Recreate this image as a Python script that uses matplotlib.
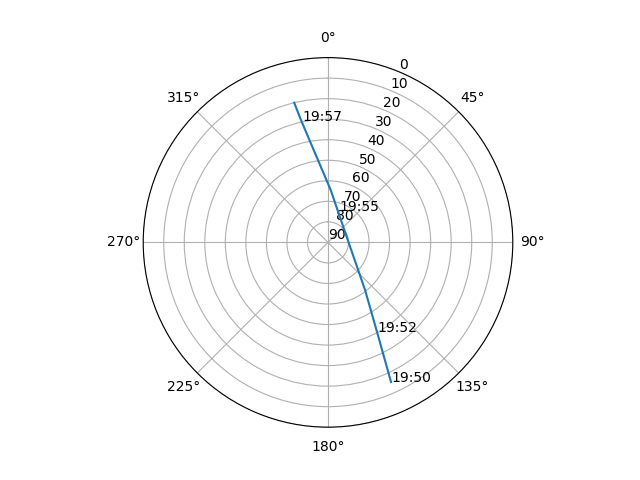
import numpy as np
import matplotlib
matplotlib.use("Agg")
import matplotlib.pyplot as plt

# satellite pass path: azimuth (deg) and elevation (deg)
path_az = [155.7, 151.3, 142.1, 108.1, 83.1, 52.9, 2.9, 347.6, 346.4]
path_el = [15.4, 40.3, 60.6, 78.1, 80.3, 80.0, 64.4, 29.3, 20.0]

# time annotations
label_times = ["19:50", "19:52", "19:55", "19:57"]
label_az = [155.7, 151.3, 19.3, 347.9]
label_el = [15.4, 40.3, 73.8, 29.5]

r_ticks = list(range(0, 91, 10))

fig = plt.figure(figsize=(6.4, 4.8), dpi=100)
ax = fig.add_subplot(111, projection="polar")
ax.set_theta_zero_location("N")
ax.set_theta_direction(-1)

theta = np.unwrap(np.radians(path_az))
ax.plot(theta, path_el)
for t, a, e in zip(label_times, label_az, label_el):
    ax.annotate(t, (np.radians(a), e))

ax.set_rlim(90, 0)
ax.set_yticks(r_ticks)
fig.savefig("out.png")
